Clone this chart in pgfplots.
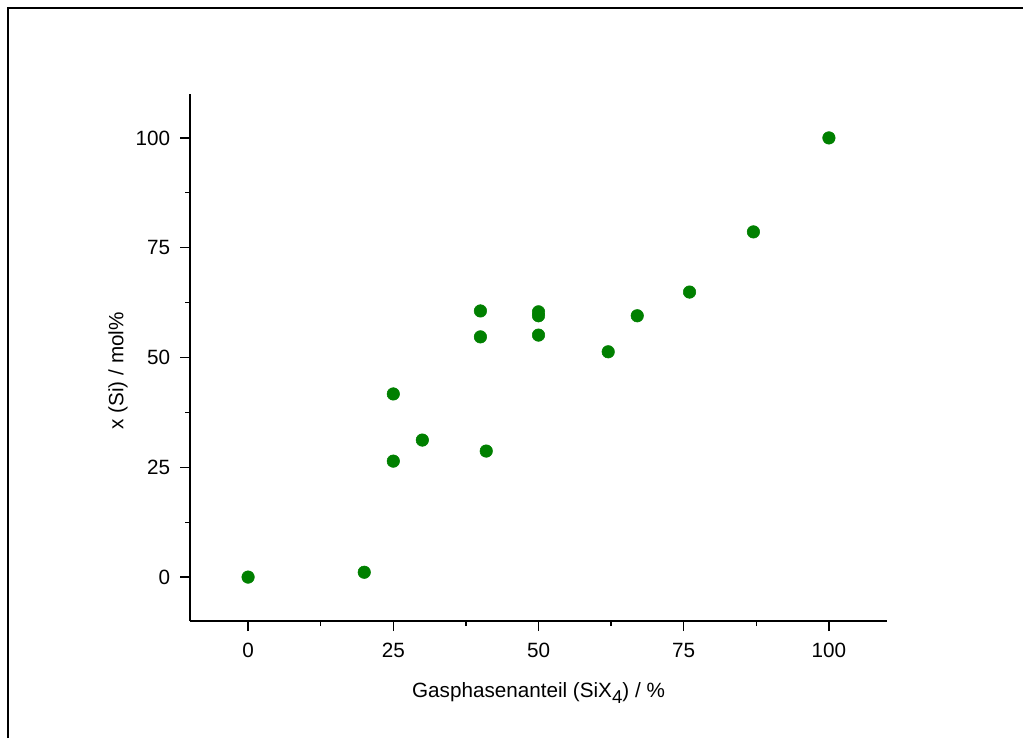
\documentclass[border=0pt]{standalone}
\usepackage{fontspec}
\setmainfont{Liberation Sans}
\usepackage{pgfplots}
\pgfplotsset{compat=1.18}
\definecolor{ptgreen}{RGB}{0,128,0}

\begin{document}
\fontsize{15.5pt}{18pt}\selectfont
\begin{tikzpicture}
\path[use as bounding box] (0,0) rectangle (767.25pt,553.5pt);
\draw[line width=1.3pt] (6pt,0) -- (6pt,547.5pt) -- (767.25pt,547.5pt);
\begin{axis}[
    at={(142.5pt,87.75pt)}, anchor=south west,
    scale only axis, width=522.75pt, height=395.25pt,
    xmin=-10, xmax=110, ymin=-10, ymax=110,
    axis lines*=left,
    axis line style={line width=1pt},
    tick style={black, line width=1pt},
    tick align=outside,
    major tick length=7.5pt, minor tick length=3.75pt,
    xtick={0,25,50,75,100}, ytick={0,25,50,75,100},
    minor xtick={12.5,37.5,62.5,87.5}, minor ytick={12.5,37.5,62.5,87.5},
    /pgf/number format/assume math mode=true,
    ticklabel style={font=\fontsize{15.5pt}{18pt}\selectfont},
    xticklabel style={yshift=-3.5pt},
    yticklabel style={xshift=-2pt},
    label style={font=\fontsize{15.5pt}{18pt}\selectfont},
    xlabel style={yshift=-8pt},
    ylabel style={yshift=-4.5pt, xshift=-10pt},
    xlabel={Gasphasenanteil (SiX\raisebox{-0.55ex}{\fontsize{14pt}{14pt}\selectfont 4}) / \%},
    ylabel={x (Si) / mol\%},
    clip=false,
]
\addplot[only marks, mark=*, mark size=4.7pt, mark options={draw=ptgreen, fill=ptgreen}]
coordinates {
(0,0) (20,1.1) (25,41.7) (25,26.4) (30,31.2) (40,60.6) (40,54.7) (41,28.7)
(50,60.4) (50,59.5) (50,55.1) (62,51.3) (67,59.5) (76,64.9) (87,78.6) (100,100)
};
\end{axis}
\end{tikzpicture}
\end{document}
